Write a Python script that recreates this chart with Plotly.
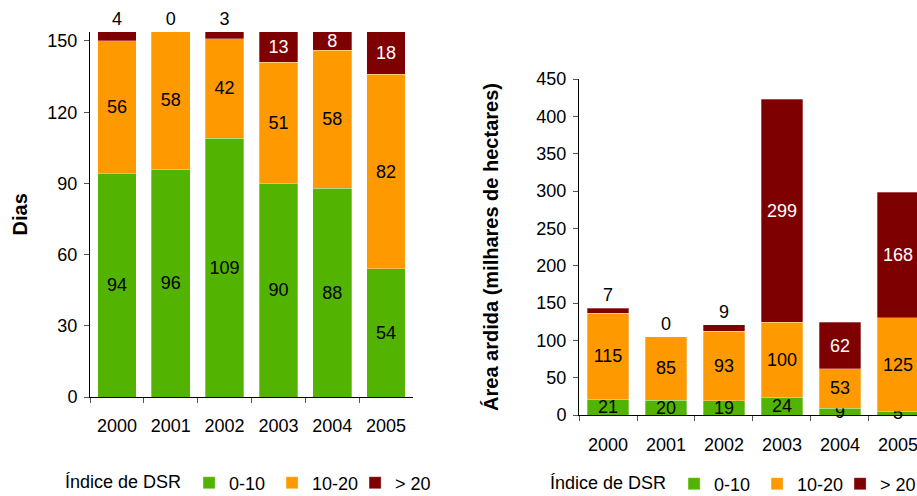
import plotly.graph_objects as go

years = ["2000", "2001", "2002", "2003", "2004", "2005"]
series_names = ["0-10", "10-20", "> 20"]

# Left chart: Dias
dias_0_10 = [94, 96, 109, 90, 88, 54]
dias_10_20 = [56, 58, 42, 51, 58, 82]
dias_gt20 = [4, 0, 3, 13, 8, 18]

# Right chart: Área ardida (milhares de hectares)
area_0_10 = [21, 20, 19, 24, 9, 5]
area_10_20 = [115, 85, 93, 100, 53, 125]
area_gt20 = [7, 0, 9, 299, 62, 168]

colors = ["#52B400", "#FF9900", "#7F0000"]
FONT = "Liberation Sans, Arial, sans-serif"
FS = 18

fig = go.Figure()

def add_stack(vals_list, xa, ya, legend, small_thresh):
    for i, (name, vals) in enumerate(zip(series_names, vals_list)):
        if i < 2:
            pos = ["inside"] * len(vals)
            tcol = ["black"] * len(vals)
        else:
            pos = ["outside" if v < small_thresh else "inside" for v in vals]
            tcol = ["black" if v < small_thresh else "white" for v in vals]
        fig.add_trace(go.Bar(
            x=years, y=vals, name=name, xaxis=xa, yaxis=ya, legend=legend,
            marker=dict(color=colors[i], line=dict(color="rgba(255,255,255,0.5)", width=0.6)),
            text=[str(v) for v in vals], textposition=pos,
            textangle=0, constraintext="none", cliponaxis=False,
            insidetextanchor="middle",
            insidetextfont=dict(family=FONT, size=FS, color=tcol),
            outsidetextfont=dict(family=FONT, size=FS, color=tcol),
            hoverinfo="skip",
        ))

add_stack([dias_0_10, dias_10_20, dias_gt20], "x", "y", "legend", 6)
add_stack([area_0_10, area_10_20, area_gt20], "x2", "y2", "legend2", 20)

axis_common = dict(showline=True, linecolor="#000000", linewidth=1, showgrid=False,
                   zeroline=False, ticks="outside", tickcolor="#555555", ticklen=5,
                   automargin=False,
                   tickfont=dict(family=FONT, size=FS, color="#000000"))

legend_common = dict(orientation="h", xanchor="left", yanchor="middle",
                     font=dict(family=FONT, size=FS, color="#000"), bgcolor="rgba(0,0,0,0)",
                     itemclick=False, traceorder="normal", entrywidth=38, entrywidthmode="pixels")

fig.update_layout(
    width=917, height=496, margin=dict(l=0, r=0, t=0, b=0, autoexpand=False),
    paper_bgcolor="white", plot_bgcolor="white",
    barmode="stack", bargap=0.28, showlegend=True,
    uniformtext=dict(minsize=FS, mode="show"),
    xaxis=dict(domain=[90/917, 413/917], range=[-0.5, 5.5], type="category", tickangle=0,
               tickson="boundaries", anchor="y", ticklabelstandoff=12, **axis_common),
    yaxis=dict(domain=[1-397/496, 1-31.5/496], range=[0, 154], dtick=30, anchor="x",
               ticklabelstandoff=3,
               title=dict(text="<b>Dias</b>", font=dict(family=FONT, size=20, color="#000"), standoff=14),
               **axis_common),
    xaxis2=dict(domain=[579/917, 1.0], range=[-0.5, 5.328], type="category", tickangle=0,
                tickson="boundaries", anchor="y2", ticklabelstandoff=13, **axis_common),
    yaxis2=dict(domain=[1-415/496, 1-79/496], range=[0, 450], dtick=50, anchor="x2",
                ticklabelstandoff=3,
                title=dict(text="<b>Área ardida (milhares de hectares)</b>", font=dict(family=FONT, size=20, color="#000"), standoff=32),
                **axis_common),
    legend=dict(x=63/917, y=1-483/496,
                title=dict(text="Índice de DSR", side="left", font=dict(family=FONT, size=FS)),
                **legend_common),
    legend2=dict(x=548/917, y=1-484/496,
                 title=dict(text="Índice de DSR", side="left", font=dict(family=FONT, size=FS)),
                 **legend_common),
)

fig.write_html("out.html")
